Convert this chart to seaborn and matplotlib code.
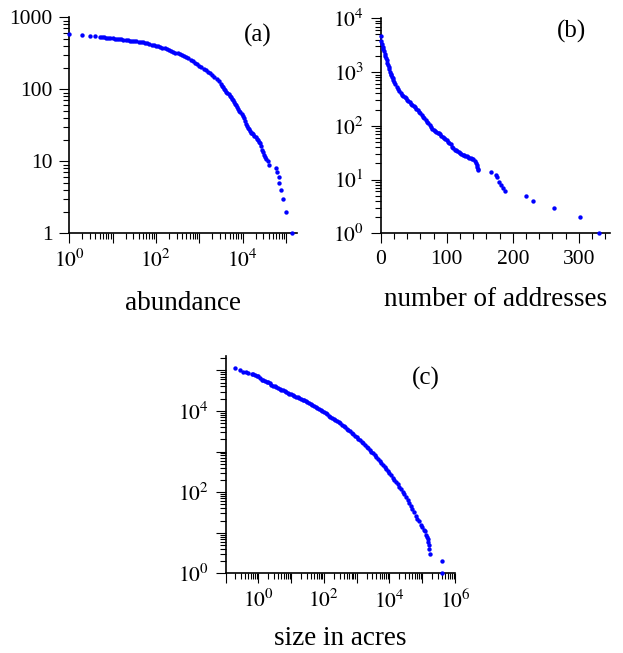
import numpy as np
import matplotlib
matplotlib.use("Agg")
import matplotlib.pyplot as plt
from matplotlib.ticker import LogLocator, MultipleLocator, NullFormatter
import seaborn as sns

# (a) species abundance: abundance vs rank
abund_x = [1, 2, 3, 4, 5,
           5.62, 6.31, 7.08, 7.94, 8.91, 10, 11.2, 12.6, 14.1, 15.8,
           17.8, 20, 22.4, 25.1, 28.2, 31.6, 35.5, 39.8, 44.7, 50.1,
           56.2, 63.1, 70.8, 79.4, 89.1, 100, 112, 126, 141, 158,
           178, 200, 224, 251, 282, 316, 355, 398, 447, 501,
           562, 631, 708, 794, 891, 1000, 1120, 1260, 1410, 1580,
           1780, 2000, 2240, 2510, 2820, 3160, 3350, 3550, 3760, 3980,
           4220, 4470, 4730, 5010, 5310, 5620, 5960, 6310, 6680, 7080,
           7500, 7940, 8410, 8910, 9440, 10000, 10600, 11200, 11900, 12600,
           13300, 14100, 15000, 15800, 16800, 17800, 18800, 20000, 21100, 22400,
           23700, 25100, 26600, 28200, 29900, 31600, 33500, 35500, 39400, 41600,
           58500, 61700, 69700, 70800, 77400, 84700, 99500, 141000]
abund_rank = [592, 568, 556, 550, 540,
              527, 525, 521, 518, 514, 511, 506, 501, 498, 493,
              489, 484, 480, 475, 471, 467, 462, 458, 453, 448,
              442, 436, 428, 419, 410, 403, 394, 385, 378, 370,
              361, 352, 343, 333, 324, 315, 305, 296, 287, 277,
              268, 258, 248, 234, 223, 211, 202, 193, 183, 175,
              168, 158, 149, 138, 129, 117, 112, 107, 102, 98,
              93, 89, 85, 80, 77, 73, 70, 66, 63, 60,
              56, 53, 50, 48, 45.5, 43, 40, 36, 33.5, 31,
              29, 28, 26.3, 25, 24.4, 24, 22.6, 22, 20.5, 19.5,
              18.7, 18, 16.2, 14.5, 13.3, 12.3, 11.5, 10.7, 10, 9,
              8, 7, 6, 5, 4, 3, 2, 1]

# (b) number of addresses
addr_x = [0, 1, 2, 3, 4, 5, 6, 7, 8, 9, 10,
          11, 12, 13, 14, 15, 16, 17, 18, 19, 20,
          22, 24, 26, 28, 30, 32, 34, 36, 38, 40,
          42, 44, 46, 48, 50, 52, 54, 56, 58, 60,
          62, 64, 66, 68, 70, 72, 74, 76, 78, 80,
          82, 84, 86, 88, 90, 92, 94, 96, 98, 100,
          102, 104, 106, 108, 110, 112, 114, 116, 118, 120,
          122, 124, 126, 128, 130, 132, 134, 136, 138, 140,
          142, 144, 145, 146, 147, 148,
          167, 174, 176, 179, 182, 185, 188, 220, 230, 263, 302, 331]
addr_count = [4600, 3800, 3310, 2950, 2690, 2460, 2190, 2000, 1820, 1660, 1480,
              1350, 1230, 1120, 1000, 933, 871, 813, 759, 708, 661,
              603, 537, 479, 437, 407, 380, 359, 343, 324, 305,
              288, 272, 257, 243, 232, 221, 209, 195, 182, 170,
              158, 148, 138, 129, 119, 111, 102, 95, 88, 83,
              79, 77, 74, 72, 69, 66, 63, 60, 58, 54,
              51, 48, 45, 41, 38, 36, 35, 33.5, 32.7, 31.6,
              30.2, 28.8, 28.2, 27.5, 26.9, 26, 25.1, 24.8, 24.5, 23.7,
              22.4, 20.4, 19, 17.4, 15.5, 14.8,
              14, 12, 11, 9, 8, 7, 6, 5, 4, 3, 2, 1]

# (c) size in acres
acres_x = [0.20, 0.28, 0.35, 0.42, 0.50, 0.63, 0.71, 0.79, 0.89, 1.0,
           1.12, 1.26, 1.41, 1.58, 1.78, 2.0, 2.24, 2.51, 2.82, 3.16,
           3.55, 3.98, 4.47, 5.01, 5.62, 6.31, 7.08, 7.94, 8.91, 10,
           11.2, 12.6, 14.1, 15.8, 17.8, 20.0, 22.4, 25.1, 28.2, 31.6,
           35.5, 39.8, 44.7, 50.1, 56.2, 63.1, 70.8, 79.4, 89.1, 100,
           112, 126, 141, 158, 178, 200, 224, 251, 282, 316,
           355, 398, 447, 501, 562, 631, 708, 794, 891, 1000,
           1120, 1260, 1410, 1580, 1780, 2000, 2240, 2510, 2820, 3160,
           3550, 3980, 4470, 5010, 5620, 6310, 7080, 7940, 8910, 10000,
           11200, 12600, 14100, 15800, 17800, 20000, 22400, 25100, 28200, 31600,
           35500, 39800, 44700, 50100, 56200, 63100, 70800, 79400, 89100, 100000,
           112000, 120000, 129000, 138000, 148000, 155000, 158000, 162000, 170000, 398000,
           407000]
acres_rank = [112000, 100000, 93300, 89100, 87100, 81300, 79400, 75900, 74100, 72400,
              63100, 58900, 57500, 55000, 52500, 51300, 47900, 44700, 41700, 40300,
              38500, 36700, 35100, 33500, 32000, 30500, 29200, 27900, 26600, 25700,
              24500, 23700, 22600, 21600, 20700, 19700, 19100, 18200, 17200, 16200,
              15300, 14500, 13600, 13000, 12300, 11600, 11000, 10300, 9770, 9230,
              8710, 8220, 7670, 7240, 6840, 6380, 5960, 5560, 5190, 4900,
              4570, 4270, 3940, 3670, 3390, 3160, 2920, 2690, 2450, 2260,
              2070, 1910, 1740, 1580, 1450, 1320, 1200, 1100, 1000, 912,
              813, 733, 653, 589, 525, 468, 417, 372, 331, 299,
              263, 229, 200, 178, 155, 135, 117, 102, 89, 76,
              65, 55, 46, 38, 32, 26, 22, 19, 15.5, 14,
              12, 11, 9, 8, 7, 6, 5, 4, 3, 2,
              1]

sns.set_style("ticks")
plt.rcParams["font.family"] = ["Liberation Serif", "DejaVu Serif"]
plt.rcParams["mathtext.fontset"] = "stix"
plt.rcParams["axes.linewidth"] = 1.2
plt.rcParams["text.color"] = "black"
plt.rcParams["axes.labelcolor"] = "black"
plt.rcParams["axes.edgecolor"] = "black"

fig = plt.figure(figsize=(6.23, 6.53), dpi=100)
ax_a = fig.add_axes([0.1112, 0.6427, 0.3655, 0.3308])
ax_b = fig.add_axes([0.6111, 0.6427, 0.3680, 0.3293])
ax_c = fig.add_axes([0.3620, 0.1220, 0.3684, 0.3328])

dot = dict(color="#0000ff", s=10, linewidth=0, clip_on=False, zorder=5)
sns.scatterplot(x=abund_x, y=abund_rank, ax=ax_a, **dot)
sns.scatterplot(x=addr_x, y=addr_count, ax=ax_b, **dot)
sns.scatterplot(x=acres_x, y=acres_rank, ax=ax_c, **dot)

minor_log = LogLocator(base=10, subs=np.arange(2, 10), numticks=30)

# panel (a)
ax_a.set_xscale("log")
ax_a.set_yscale("log")
ax_a.set_xlim(1, 1.8e5)
ax_a.set_ylim(1, 1000)
ax_a.set_xticks([1, 10, 100, 1e3, 1e4, 1e5])
ax_a.set_xticklabels(["$10^{0}$", "", "$10^{2}$", "", "$10^{4}$", ""])
ax_a.set_yticks([1, 10, 100, 1000])
ax_a.set_yticklabels(["1", "10", "100", "1000"])
ax_a.set_xlabel("abundance")
ax_a.text(0.826, 0.918, "(a)", transform=ax_a.transAxes, ha="center", va="center", fontsize=18)

# panel (b)
ax_b.set_yscale("log")
ax_b.set_xlim(0, 347)
ax_b.set_ylim(1, 1e4)
ax_b.set_xticks([0, 100, 200, 300])
ax_b.xaxis.set_minor_locator(MultipleLocator(20))
ax_b.set_yticks([1, 10, 100, 1e3, 1e4])
ax_b.set_yticklabels(["$10^{0}$", "$10^{1}$", "$10^{2}$", "$10^{3}$", "$10^{4}$"])
ax_b.set_xlabel("number of addresses")
ax_b.text(0.833, 0.938, "(b)", transform=ax_b.transAxes, ha="center", va="center", fontsize=18)

# panel (c)
ax_c.set_xscale("log")
ax_c.set_yscale("log")
ax_c.set_xlim(0.1, 1e6)
ax_c.set_ylim(1, 2.25e5)
ax_c.set_xticks([0.1, 1, 10, 100, 1e3, 1e4, 1e5, 1e6])
ax_c.set_xticklabels(["", "$10^{0}$", "", "$10^{2}$", "", "$10^{4}$", "", "$10^{6}$"])
ax_c.set_yticks([1, 10, 100, 1e3, 1e4, 1e5])
ax_c.set_yticklabels(["$10^{0}$", "", "$10^{2}$", "", "$10^{4}$", ""])
ax_c.set_xlabel("size in acres")
ax_c.text(0.874, 0.899, "(c)", transform=ax_c.transAxes, ha="center", va="center", fontsize=18)

for ax in (ax_a, ax_b, ax_c):
    sns.despine(ax=ax)
    if ax.get_xscale() == "log":
        ax.xaxis.set_minor_locator(minor_log)
    ax.yaxis.set_minor_locator(minor_log)
    ax.xaxis.set_minor_formatter(NullFormatter())
    ax.yaxis.set_minor_formatter(NullFormatter())
    ax.tick_params(which="major", direction="out", length=7, width=0.8,
                   labelsize=15.5, pad=5, colors="black")
    ax.tick_params(which="minor", direction="out", length=4, width=0.8, colors="black")
    ax.xaxis.label.set_size(19.5)
    ax.xaxis.labelpad = 13

# keep the bottom label inside the figure
ax_c.xaxis.labelpad = 9

fig.savefig("out.png", dpi=100)
